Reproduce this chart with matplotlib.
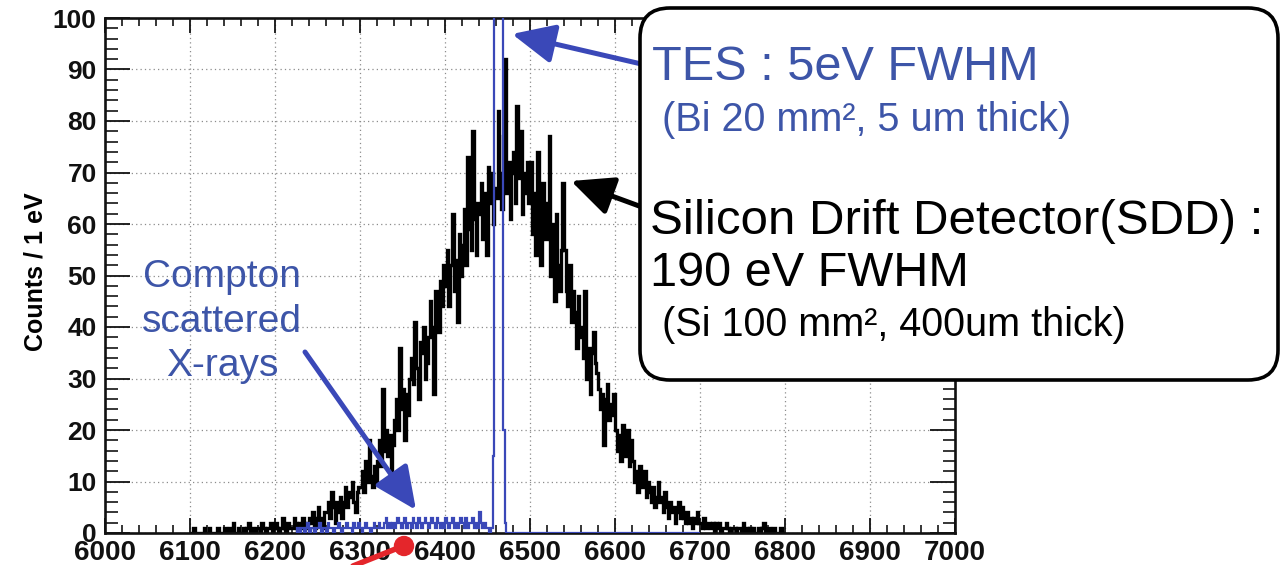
import numpy as np
import matplotlib
matplotlib.use("Agg")
import matplotlib.pyplot as plt
from matplotlib.patches import FancyBboxPatch, FancyArrowPatch, Circle
from matplotlib.lines import Line2D
from matplotlib.ticker import MultipleLocator

plt.rcParams["font.family"] = ["Liberation Sans", "DejaVu Sans"]

# ---- Silicon drift detector spectrum (counts per bin, 2 eV bins from 6100 eV)
sdd_start = 6100
sdd_bin = 2
sdd_counts = [
    0, 0, 1, 0, 0, 0, 0, 0, 1, 0,
    0, 1, 0, 0, 0, 0, 1, 0, 0, 0,
    1, 0, 0, 1, 0, 2, 0, 0, 1, 0,
    0, 1, 0, 1, 2, 0, 1, 0, 0, 1,
    1, 0, 2, 1, 0, 1, 1, 2, 0, 1,
    2, 1, 0, 1, 3, 1, 0, 2, 1, 1,
    1, 3, 2, 0, 2, 1, 3, 1, 2, 2,
    3, 2, 4, 1, 3, 5, 2, 3, 1, 4,
    4, 6, 3, 8, 5, 2, 6, 4, 7, 3,
    6, 9, 5, 8, 7, 10, 6, 4, 8, 9,
    9, 12, 8, 14, 10, 18, 11, 9, 13, 10,
    14, 18, 13, 28, 16, 20, 15, 19, 12, 17,
    22, 26, 20, 36, 24, 28, 18, 27, 23, 30,
    34, 29, 41, 32, 26, 37, 35, 40, 30, 33,
    38, 45, 40, 27, 47, 42, 39, 49, 44, 52,
    48, 55, 44, 52, 62, 47, 53, 41, 58, 50,
    56, 63, 52, 73, 59, 55, 78, 61, 54, 64,
    62, 68, 57, 66, 54, 71, 64, 70, 60, 67,
    65, 82, 70, 63, 77, 92, 66, 72, 61, 70,
    74, 64, 83, 69, 78, 62, 70, 66, 72, 64,
    72, 58, 66, 54, 74, 61, 52, 68, 63, 57,
    64, 77, 50, 60, 45, 62, 52, 47, 55, 68,
    55, 47, 44, 52, 41, 47, 43, 36, 46, 40,
    38, 34, 47, 30, 36, 27, 35, 39, 33, 31,
    28, 24, 27, 17, 26, 29, 22, 25, 23, 27,
    20, 16, 19, 14, 21, 17, 15, 20, 13, 18,
    14, 10, 12, 8, 13, 11, 9, 12, 7, 10,
    8, 6, 9, 5, 7, 10, 6, 7, 4, 8,
    5, 3, 6, 4, 5, 2, 4, 6, 3, 5,
    3, 2, 4, 2, 3, 1, 3, 2, 4, 2,
    2, 1, 3, 1, 2, 2, 1, 2, 0, 2,
    1, 2, 0, 1, 1, 2, 1, 0, 1, 1,
    1, 0, 1, 1, 0, 2, 0, 1, 0, 1,
    0, 1, 0, 0, 1, 0, 1, 2, 0, 0,
    1, 0, 0, 1, 0, 0, 0, 1, 0, 0,
]

# ---- TES spectrum (2 eV bins from 6226 eV): Compton continuum, line, empty tail
tes_start = 6226
tes_bin = 2
tes_compton = [
    1, 0, 1, 1, 0, 1, 2, 0, 1, 1,
    0, 1, 1, 2, 0, 1, 1, 0, 2, 1,
    1, 0, 1, 1, 2, 1, 0, 1, 1, 2,
    1, 1, 0, 2, 1, 1, 2, 1, 0, 1,
    2, 1, 1, 0, 1, 2, 1, 1, 2, 1,
    1, 2, 3, 1, 2, 1, 2, 1, 2, 3,
    2, 1, 2, 3, 1, 2, 2, 1, 3, 2,
    1, 3, 2, 1, 2, 3, 2, 1, 2, 3,
    2, 1, 3, 2, 1, 2, 1, 3, 2, 1,
    2, 3, 1, 2, 1, 2, 3, 2, 1, 3,
    1, 2, 2, 3, 1, 2, 1, 4, 2, 1,
    2, 1, 1, 0, 1,
]
tes_line = [15, 180, 420, 510, 330, 150, 20, 2]
tes_tail = [0] * 114
tes_counts = tes_compton + tes_line + tes_tail

x_ticks = [6000, 6100, 6200, 6300, 6400, 6500, 6600, 6700, 6800, 6900, 7000]
y_ticks = [0, 10, 20, 30, 40, 50, 60, 70, 80, 90, 100]

BLUE_LINE = "#3a48b8"
BLUE_TEXT = "#3d55a8"
RED = "#e4262b"

W, H = 1284, 565
fig = plt.figure(figsize=(W / 100, H / 100), dpi=100)
ax = fig.add_axes([105 / W, 1 - 533 / H, 850 / W, 515 / H])

sdd_edges = sdd_start + sdd_bin * np.arange(len(sdd_counts) + 1)
tes_edges = tes_start + tes_bin * np.arange(len(tes_counts) + 1)
ax.stairs(sdd_counts, sdd_edges, color="black", lw=2.4, zorder=2.2)
ax.stairs(tes_counts, tes_edges, color=BLUE_LINE, lw=1.6, zorder=2.6)

ax.set_xlim(x_ticks[0], x_ticks[-1])
ax.set_ylim(y_ticks[0], y_ticks[-1])
ax.set_xticks(x_ticks, labels=[str(v) for v in x_ticks], fontsize=20, fontweight="bold")
ax.set_yticks(y_ticks, labels=[str(v) for v in y_ticks], fontsize=19, fontweight="bold")
ax.xaxis.set_minor_locator(MultipleLocator(20))
ax.yaxis.set_minor_locator(MultipleLocator(2))

ax.tick_params(axis="x", which="major", direction="in", length=11, width=1.3,
               top=True, bottom=True, pad=5, colors="#111111")
ax.tick_params(axis="x", which="minor", direction="in", length=5.5, width=1.1,
               top=True, bottom=True)
ax.tick_params(axis="y", which="major", direction="in", length=18, width=1.3,
               left=True, right=True, pad=6, colors="#111111")
ax.tick_params(axis="y", which="minor", direction="in", length=9, width=1.1,
               left=True, right=True)
for s in ax.spines.values():
    s.set_linewidth(1.9)
    s.set_color("#111111")

ax.set_axisbelow(True)
ax.grid(True, which="major", linestyle=(0, (1, 2.5)), color="#8c8c8c", lw=0.9)

ax.set_ylabel("Counts / 1 eV", fontsize=18, fontweight="bold")
ax.yaxis.label.set_va("center")
ax.yaxis.set_label_coords(-0.082, 0.507)

# ---- annotation layer in figure pixel coordinates
ov = fig.add_axes([0, 0, 1, 1])
ov.set_xlim(0, W)
ov.set_ylim(H, 0)
ov.axis("off")


def arrow(p0, p1, color, z=5):
    ov.add_patch(FancyArrowPatch(p0, p1, arrowstyle="-|>,head_length=1.3,head_width=0.6",
                                 mutation_scale=20, lw=3.6, color=color,
                                 shrinkA=0, shrinkB=0, zorder=z))


arrow((650, 66), (512, 34), BLUE_LINE)
arrow((650, 210), (571, 181), "black")
arrow((305, 352), (416, 510), BLUE_LINE)

box = FancyBboxPatch((640, 8), 638, 372, boxstyle="round,pad=0,rounding_size=30",
                     fc="white", ec="black", lw=2.6, zorder=6)
ov.add_patch(box)

ov.text(652, 68, "TES : 5eV FWHM", color=BLUE_TEXT, fontsize=35, va="center", ha="left", zorder=7)
ov.text(662, 120, "(Bi 20 mm\u00b2, 5 um thick)", color=BLUE_TEXT, fontsize=28.5,
        va="center", ha="left", zorder=7)
ov.text(650, 222, "Silicon Drift Detector(SDD) :", color="black", fontsize=35.5,
        va="center", ha="left", zorder=7)
ov.text(650, 274, "190 eV FWHM", color="black", fontsize=35, va="center", ha="left", zorder=7)
ov.text(662, 325, "(Si 100 mm\u00b2, 400um thick)", color="black", fontsize=28.5,
        va="center", ha="left", zorder=7)

for txt, yy in (("Compton", 277), ("scattered", 322), ("X-rays", 366)):
    ov.text(222, yy, txt, color=BLUE_TEXT, fontsize=28, va="center", ha="center", zorder=7)

# red pointer below the axis
ov.add_line(Line2D([403, 338], [546, 572], color=RED, lw=4, solid_capstyle="round", zorder=7))
ov.add_patch(Circle((404, 546), 9.5, color=RED, zorder=8))

fig.savefig("out.png", dpi=100)
